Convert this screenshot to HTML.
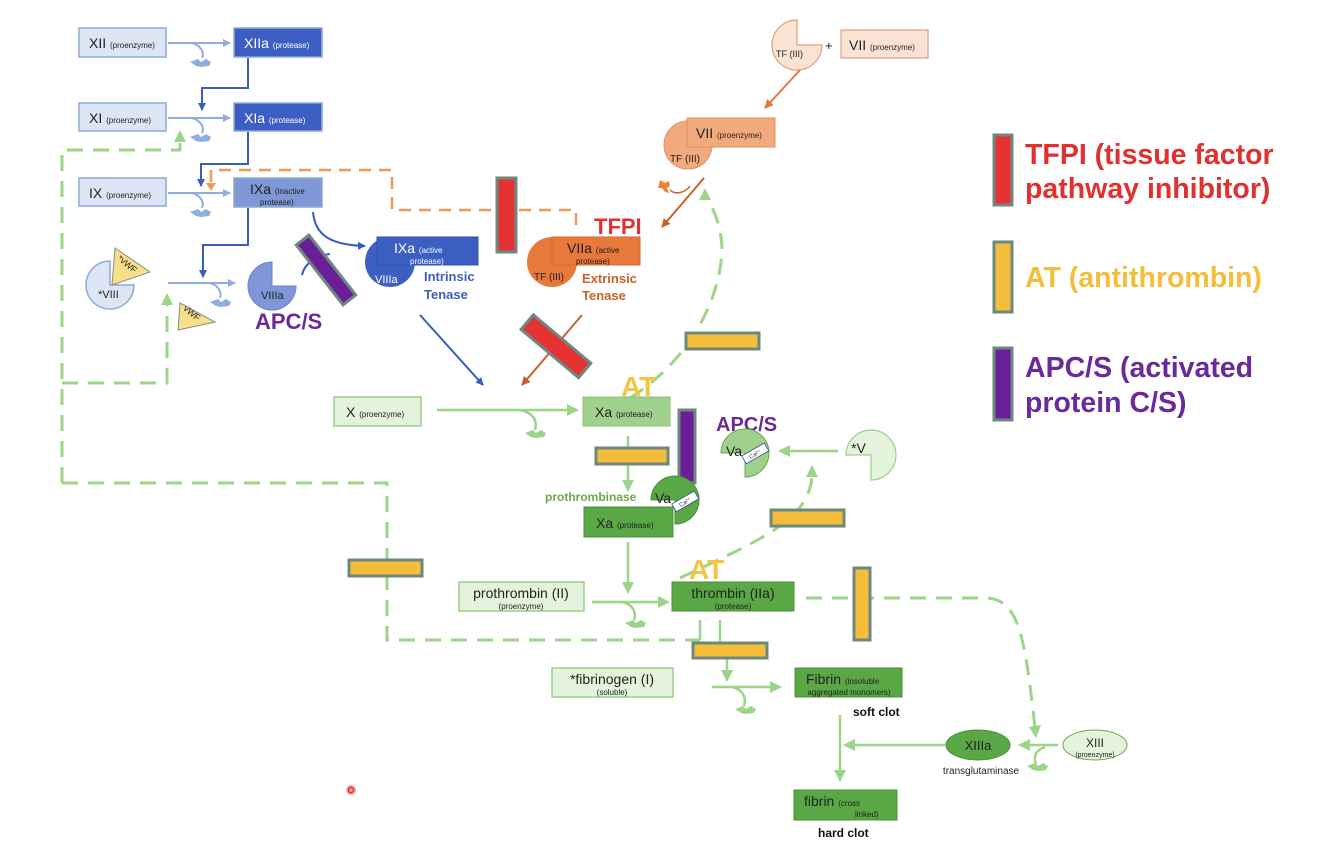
<!DOCTYPE html>
<html><head><meta charset="utf-8"><style>
html,body{margin:0;padding:0;background:#fff;}
svg{display:block;font-family:"Liberation Sans",sans-serif;}
</style></head><body>
<svg width="1334" height="842" viewBox="0 0 1334 842" xmlns="http://www.w3.org/2000/svg">
<defs>
<marker id="ab" markerWidth="8" markerHeight="8" refX="7" refY="4" orient="auto" markerUnits="userSpaceOnUse"><path d="M0,0 L8,4 L0,8 z" fill="#8faee0"/></marker>
<marker id="adb" markerWidth="8" markerHeight="8" refX="7" refY="4" orient="auto" markerUnits="userSpaceOnUse"><path d="M0,0 L8,4 L0,8 z" fill="#3a5cc0"/></marker>
<marker id="ag" markerWidth="12" markerHeight="12" refX="10" refY="6" orient="auto" markerUnits="userSpaceOnUse"><path d="M0,0 L12,6 L0,12 z" fill="#9cd48a"/></marker>
<marker id="ao" markerWidth="9" markerHeight="9" refX="8" refY="4.5" orient="auto" markerUnits="userSpaceOnUse"><path d="M0,0 L9,4.5 L0,9 z" fill="#e07a3a"/></marker>
<marker id="ado" markerWidth="9" markerHeight="9" refX="8" refY="4.5" orient="auto" markerUnits="userSpaceOnUse"><path d="M0,0 L9,4.5 L0,9 z" fill="#c8602a"/></marker>
</defs>

<g fill="none" stroke="#9cd48a" stroke-width="3" stroke-dasharray="16,10">
<path d="M62,483 L62,150 L180,150 L180,140"/>
<path d="M62,383 L167,383 L167,305"/>
<path d="M62,483 L387,483 L387,640 L700,640"/>
<path d="M630,398 C690,360 720,300 722,250 C722,230 715,210 705,195"/>
<path d="M680,578 C760,540 810,520 812,475"/>
<path d="M806,598 L985,598 C1020,598 1025,640 1035,728"/>
</g>
<path d="M174,142 L180,130 L186,142 z" fill="#9cd48a"/>
<path d="M161,305 L167,293 L173,305 z" fill="#9cd48a"/>
<path d="M699,200 L705,188 L711,200 z" fill="#9cd48a"/>
<path d="M806,477 L812,465 L818,477 z" fill="#9cd48a"/>
<path d="M1029,727 L1036,738 L1041,725 z" fill="#9cd48a"/>

<path d="M576,225 L576,210 L392,210 L392,170 L211,170 L211,186" fill="none" stroke="#f09a5a" stroke-width="2.5" stroke-dasharray="12,8"/>
<path d="M206,183 L211,191 L216,183 z" fill="#f09a5a"/>

<g stroke="#8fa8d8" stroke-width="1.5">
<rect x="79" y="28" width="87" height="29" fill="#dde6f5"/>
<rect x="79" y="103" width="87" height="28" fill="#dde6f5"/>
<rect x="79" y="178" width="87" height="28" fill="#dde6f5"/>
<rect x="234" y="28" width="88" height="29" fill="#3d5fc4"/>
<rect x="234" y="103" width="88" height="28" fill="#3d5fc4"/>
<rect x="234" y="178" width="88" height="29" fill="#7f97d6"/>
</g>
<g font-size="14" fill="#222"><text x="89" y="48">XII <tspan font-size="8">(proenzyme)</tspan></text>
<text x="89" y="123">XI <tspan font-size="8">(proenzyme)</tspan></text>
<text x="89" y="198">IX <tspan font-size="8">(proenzyme)</tspan></text></g>
<g font-size="14" fill="#fff"><text x="244" y="48">XIIa <tspan font-size="8">(protease)</tspan></text>
<text x="244" y="123">XIa <tspan font-size="8">(protease)</tspan></text></g>
<text x="250" y="194" font-size="14" fill="#222">IXa <tspan font-size="8">(inactive</tspan></text>
<text x="260" y="205" font-size="8" fill="#222">protease)</text>

<g fill="none" stroke="#8faee0" stroke-width="2">
<path d="M168,43 L230,43" marker-end="url(#ab)"/>
<path d="M168,118 L230,118" marker-end="url(#ab)"/>
<path d="M168,193 L230,193" marker-end="url(#ab)"/>
<path d="M168,283 L235,283" marker-end="url(#ab)"/>
<path d="M192,43 C200,45 205,52 202,58"/><path d="M192,118 C200,120 205,127 202,133"/>
<path d="M192,193 C200,195 205,202 202,208"/><path d="M210,283 C218,285 222,292 220,298"/>
</g>
<g fill="#8faee0">
<path d="M190,62 l8,-3 l3,3 l5,-3 l5,3 l-2,4 l-8,1 l-5,-1 z"/>
<path d="M190,137 l8,-3 l3,3 l5,-3 l5,3 l-2,4 l-8,1 l-5,-1 z"/>
<path d="M190,212 l8,-3 l3,3 l5,-3 l5,3 l-2,4 l-8,1 l-5,-1 z"/>
<path d="M210,302 l8,-3 l3,3 l5,-3 l5,3 l-2,4 l-8,1 l-5,-1 z"/>
</g>
<g fill="none" stroke="#3a5cc0" stroke-width="2">
<path d="M248,58 L248,88 L202,88 L202,110" marker-end="url(#adb)"/>
<path d="M248,132 L248,164 L201,164 L201,186" marker-end="url(#adb)"/>
<path d="M248,208 L248,245 L203,245 L203,277" marker-end="url(#adb)"/>
<path d="M313,212 C315,235 330,245 365,246" marker-end="url(#adb)"/>
<path d="M302,275 C305,262 318,255 330,254"/>
<path d="M420,315 L483,385" marker-end="url(#adb)"/>
</g>

<path d="M110,285 L110,261 A24,24 0 1,0 134,285 z" fill="#dde6f5" stroke="#8fa8d8" stroke-width="1.5"/>
<text x="98" y="298" font-size="11" fill="#222">*VIII</text>
<path d="M115,248 L150,272 L112,285 z" fill="#f8e08a" stroke="#8a8a8a" stroke-width="1"/>
<text x="116" y="262" font-size="9" fill="#222" transform="rotate(40 120 262)">*vWF</text>
<path d="M180,303 L215,322 L178,330 z" fill="#f8e08a" stroke="#8a8a8a" stroke-width="1"/>
<text x="182" y="312" font-size="9" fill="#222" transform="rotate(40 186 312)">vWF</text>
<path d="M272,286 L272,262 A24,24 0 1,0 296,286 z" fill="#7f97d6" stroke="#6a85c8" stroke-width="1"/>
<text x="261" y="299" font-size="11" fill="#222">VIIIa</text>
<text x="255" y="329" font-size="22" font-weight="bold" fill="#6a2a9a">APC/S</text>

<circle cx="390" cy="262" r="25" fill="#3d5fc4"/>
<rect x="377" y="237" width="101" height="28" fill="#3d5fc4" stroke="#3050b0"/>
<text x="394" y="253" font-size="14" fill="#fff">IXa <tspan font-size="8">(active</tspan></text>
<text x="410" y="264" font-size="8" fill="#fff">protease)</text>
<text x="375" y="283" font-size="11" fill="#fff">VIIIa</text>
<text x="424" y="281" font-size="13" font-weight="bold" fill="#3d5fc4">Intrinsic</text>
<text x="424" y="299" font-size="13" font-weight="bold" fill="#3d5fc4">Tenase</text>

<rect x="318" y="232" width="16" height="76" fill="#6a1f99" stroke="#6e8880" stroke-width="3" transform="rotate(-38 326 270)"/>
<rect x="679" y="410" width="16" height="73" fill="#6a1f99" stroke="#6e8880" stroke-width="3"/>

<path d="M797,45 L797,20 A25,25 0 1,0 822,45 z" fill="#fbe3d4" stroke="#e0a080" stroke-width="1.2"/>
<text x="776" y="57" font-size="9" fill="#222">TF (III)</text>
<text x="825" y="50" font-size="13" fill="#222">+</text>
<rect x="841" y="30" width="87" height="28" fill="#fbe3d4" stroke="#e0a080" stroke-width="1.2"/>
<text x="849" y="50" font-size="14" fill="#222">VII <tspan font-size="8">(proenzyme)</tspan></text>
<path d="M800,70 L765,108" stroke="#e07a3a" stroke-width="2" marker-end="url(#ao)"/>
<circle cx="688" cy="145" r="24" fill="#f2a97c" stroke="#e09060"/>
<rect x="687" y="118" width="88" height="29" fill="#f2a97c" stroke="#e09060"/>
<text x="696" y="138" font-size="14" fill="#222">VII <tspan font-size="8">(proenzyme)</tspan></text>
<text x="670" y="162" font-size="10" fill="#222">TF (III)</text>
<path d="M704,178 L662,227" stroke="#c8602a" stroke-width="2" marker-end="url(#ado)"/>
<path d="M670,190 C675,195 685,193 690,186" fill="none" stroke="#c8602a" stroke-width="1.5"/>
<path d="M660,180 l5,3 l4,-2 l1,5 l-3,2 l2,5 l-4,-1 l-3,-4 l-4,0 z" fill="#f08040"/>
<text x="594" y="234" font-size="22" font-weight="bold" fill="#e03030">TFPI</text>
<circle cx="552" cy="262" r="25" fill="#e8793a"/>
<rect x="552" y="237" width="88" height="28" fill="#e8793a" stroke="#d06a30"/>
<text x="567" y="253" font-size="14" fill="#222">VIIa <tspan font-size="8">(active</tspan></text>
<text x="576" y="264" font-size="8" fill="#222">protease)</text>
<text x="534" y="280" font-size="10" fill="#222">TF (III)</text>
<text x="582" y="283" font-size="13" font-weight="bold" fill="#c9602a">Extrinsic</text>
<text x="582" y="300" font-size="13" font-weight="bold" fill="#c9602a">Tenase</text>
<path d="M582,315 L522,385" stroke="#c8602a" stroke-width="2" marker-end="url(#ado)"/>
<rect x="497" y="178" width="19" height="74" fill="#e53333" stroke="#6e8880" stroke-width="3"/>
<rect x="547" y="309" width="19" height="75" fill="#e53333" stroke="#6e8880" stroke-width="3" transform="rotate(-50 556 347)"/>

<g fill="none" stroke="#9cd48a" stroke-width="2.5">
<path d="M437,410 L577,410" marker-end="url(#ag)"/>
<path d="M520,410 C532,412 538,420 535,430"/>
<path d="M628,436 L628,490" marker-end="url(#ag)"/>
<path d="M628,542 L628,592" marker-end="url(#ag)"/>
<path d="M592,602 L668,602" marker-end="url(#ag)"/>
<path d="M622,602 C632,604 637,612 634,620"/>
<path d="M838,451 L780,451" marker-end="url(#ag)"/>
<path d="M700,620 L700,640"/><path d="M720,620 L720,643"/>
<path d="M727,658 L727,680" marker-end="url(#ag)"/>
<path d="M712,687 L780,687" marker-end="url(#ag)"/>
<path d="M732,687 C742,689 747,697 744,706"/>
<path d="M840,715 L840,780" marker-end="url(#ag)"/>
<path d="M945,745 L845,745" marker-end="url(#ag)"/>
<path d="M1058,745 L1020,745" marker-end="url(#ag)"/>
<path d="M1045,747 C1036,750 1033,756 1036,764"/>
</g>
<g fill="#9cd48a">
<path d="M525,433 l8,-3 l3,3 l5,-3 l5,3 l-2,4 l-8,1 l-5,-1 z"/>
<path d="M625,623 l8,-3 l3,3 l5,-3 l5,3 l-2,4 l-8,1 l-5,-1 z"/>
<path d="M735,709 l8,-3 l3,3 l5,-3 l5,3 l-2,4 l-8,1 l-5,-1 z"/>
<path d="M1027,766 l8,-3 l3,3 l5,-3 l5,3 l-2,4 l-8,1 l-5,-1 z"/>
</g>

<rect x="334" y="397" width="87" height="29" fill="#e3f3dc" stroke="#9ccf8a" stroke-width="1.5"/>
<text x="346" y="417" font-size="14" fill="#222">X <tspan font-size="8">(proenzyme)</tspan></text>
<rect x="583" y="397" width="87" height="29" fill="#9fd08c" stroke="#8cc078"/>
<text x="595" y="417" font-size="14" fill="#222">Xa <tspan font-size="8">(protease)</tspan></text>
<text x="621" y="396" font-size="28" font-weight="bold" fill="#f4c542">AT</text>

<text x="545" y="501" font-size="12" font-weight="bold" fill="#6aaa4a">prothrombinase</text>
<path d="M675,500 L651,500 A24,24 0 1,1 675,524 z" fill="#5aa845" stroke="#4a9035"/>
<rect x="584" y="507" width="89" height="30" fill="#5aa845" stroke="#4a9035"/>
<text x="596" y="528" font-size="14" fill="#222">Xa <tspan font-size="8">(protease)</tspan></text>
<text x="655" y="503" font-size="14" fill="#222">Va</text>
<rect x="672" y="497" width="26" height="9" fill="#fff" stroke="#3050a0" stroke-width="0.8" transform="rotate(-30 685 501)"/>
<text x="678" y="504" font-size="6" fill="#333" transform="rotate(-30 685 501)">Ca²⁺</text>

<text x="716" y="431" font-size="20" font-weight="bold" fill="#6a2a9a">APC/S</text>
<path d="M745,453 L721,453 A24,24 0 1,1 745,477 z" fill="#9fd08c" stroke="#6aaa4a"/>
<text x="726" y="456" font-size="14" fill="#222">Va</text>
<rect x="742" y="449" width="26" height="9" fill="#fff" stroke="#3050a0" stroke-width="0.8" transform="rotate(-30 755 453)"/>
<text x="748" y="456" font-size="6" fill="#333" transform="rotate(-30 755 453)">Ca²⁺</text>
<path d="M871,455 L846,455 A25,25 0 1,1 871,480 z" fill="#e3f3dc" stroke="#9ccf8a" stroke-width="1.2"/>
<text x="851" y="453" font-size="14" fill="#222">*V</text>

<rect x="459" y="582" width="125" height="29" fill="#e3f3dc" stroke="#9ccf8a" stroke-width="1.5"/>
<text x="521" y="598" font-size="14" fill="#222" text-anchor="middle">prothrombin (II)</text>
<text x="521" y="609" font-size="8" fill="#222" text-anchor="middle">(proenzyme)</text>
<rect x="672" y="582" width="122" height="29" fill="#5aa845" stroke="#4a9035"/>
<text x="733" y="598" font-size="14" fill="#222" text-anchor="middle">thrombin (IIa)</text>
<text x="733" y="609" font-size="8" fill="#222" text-anchor="middle">(protease)</text>
<text x="689" y="579" font-size="28" font-weight="bold" fill="#f4c542">AT</text>

<rect x="552" y="668" width="121" height="29" fill="#e3f3dc" stroke="#9ccf8a" stroke-width="1.5"/>
<text x="612" y="684" font-size="14" fill="#222" text-anchor="middle">*fibrinogen (I)</text>
<text x="612" y="695" font-size="8" fill="#222" text-anchor="middle">(soluble)</text>
<rect x="795" y="668" width="107" height="29" fill="#5aa845" stroke="#4a9035"/>
<text x="806" y="684" font-size="14" fill="#222">Fibrin <tspan font-size="8">(insoluble</tspan></text>
<text x="849" y="695" font-size="8" fill="#222" text-anchor="middle">aggregated monomers)</text>
<text x="853" y="716" font-size="12" font-weight="bold" fill="#111">soft clot</text>
<rect x="794" y="790" width="103" height="30" fill="#5aa845" stroke="#4a9035"/>
<text x="804" y="806" font-size="14" fill="#222">fibrin <tspan font-size="8">(cross</tspan></text>
<text x="855" y="817" font-size="8" fill="#222">linked)</text>
<text x="818" y="837" font-size="12" font-weight="bold" fill="#111">hard clot</text>

<ellipse cx="978" cy="745" rx="32" ry="15" fill="#5aa845" stroke="#4a9035"/>
<text x="978" y="750" font-size="13" fill="#222" text-anchor="middle">XIIIa</text>
<text x="981" y="774" font-size="10" fill="#222" text-anchor="middle">transglutaminase</text>
<ellipse cx="1095" cy="745" rx="32" ry="15" fill="#e3f3dc" stroke="#6aaa4a"/>
<text x="1095" y="747" font-size="12" fill="#222" text-anchor="middle">XIII</text>
<text x="1095" y="757" font-size="7" fill="#222" text-anchor="middle">(proenzyme)</text>

<g fill="#f4bd3a" stroke="#6e8880" stroke-width="3">
<rect x="686" y="333" width="73" height="16"/>
<rect x="596" y="448" width="72" height="16"/>
<rect x="771" y="510" width="73" height="16"/>
<rect x="349" y="560" width="73" height="16"/>
<rect x="854" y="568" width="16" height="72"/>
<rect x="693" y="643" width="74" height="15"/>
</g>

<rect x="994" y="135" width="18" height="70" fill="#e53333" stroke="#6e8880" stroke-width="3"/>
<text x="1025" y="164" font-size="28.5" font-weight="bold" fill="#e03030">TFPI (tissue factor</text>
<text x="1025" y="198" font-size="28.5" font-weight="bold" fill="#e03030">pathway inhibitor)</text>
<rect x="994" y="242" width="18" height="70" fill="#f4bd3a" stroke="#6e8880" stroke-width="3"/>
<text x="1025" y="287" font-size="28.5" font-weight="bold" fill="#f4bd3a">AT (antithrombin)</text>
<rect x="994" y="348" width="18" height="72" fill="#6a1f99" stroke="#6e8880" stroke-width="3"/>
<text x="1025" y="377" font-size="28.5" font-weight="bold" fill="#6a2a9a">APC/S (activated</text>
<text x="1025" y="412" font-size="28.5" font-weight="bold" fill="#6a2a9a">protein C/S)</text>

<circle cx="351" cy="790" r="5" fill="#f4a0a0"/><circle cx="351" cy="790" r="2.5" fill="none" stroke="#d02020" stroke-width="1.2"/>
</svg>
</body></html>
